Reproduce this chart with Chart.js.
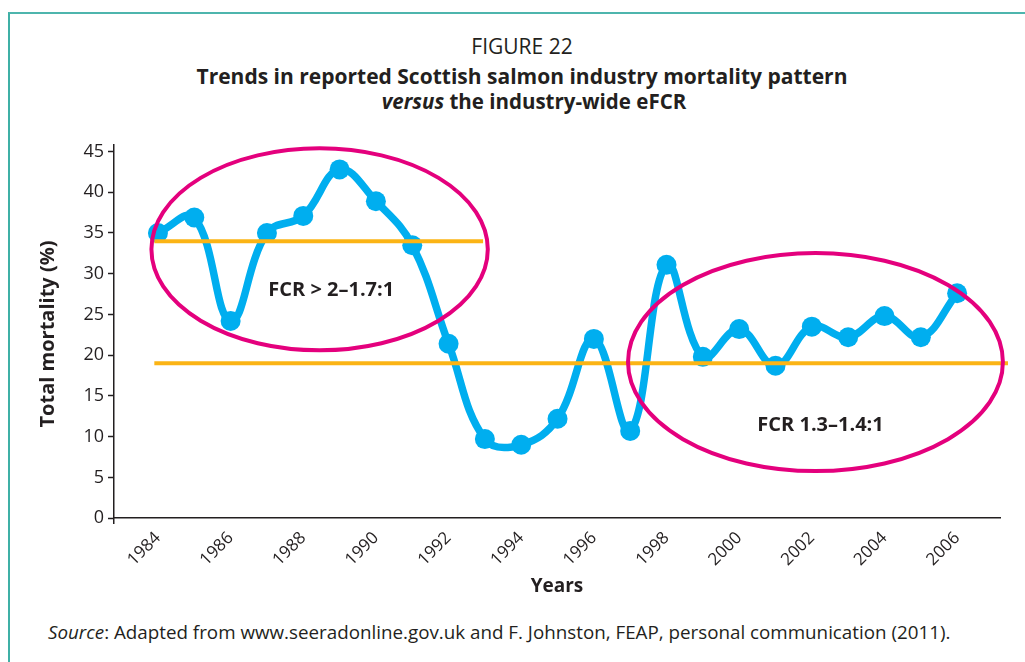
<!DOCTYPE html>
<html>
<head>
<meta charset="utf-8">
<script src="https://cdn.jsdelivr.net/npm/chart.js@4/dist/chart.umd.min.js"></script>
<style>
  body { margin: 0; width: 1025px; height: 662px; overflow: hidden; background: #fff; font-family: "Open Sans", sans-serif; color: #231f20; }
  #frame { position: absolute; left: 8px; top: 12px; width: 1100px; height: 700px; border-top: 2px solid #4db5ad; border-left: 2px solid #3fb0a6; }
  .head { position: absolute; left: 9px; width: 1026px; text-align: center; white-space: nowrap; line-height: 1.3; }
  #fig { top: 33px; font-size: 21px; }
  #t1 { top: 63px; font-size: 21px; font-weight: bold; }
  #t2 { top: 88px; font-size: 20.5px; font-weight: bold; padding-left: 24px; box-sizing: border-box; }
  #src { position: absolute; left: 48px; top: 620px; font-size: 18.8px; line-height: 1.3; white-space: nowrap; }
  canvas { position: absolute; left: 0; top: 0; }
</style>
</head>
<body>
<div id="frame"></div>
<div class="head" id="fig">FIGURE 22</div>
<div class="head" id="t1">Trends in reported Scottish salmon industry mortality pattern</div>
<div class="head" id="t2"><i>versus</i> the industry-wide eFCR</div>
<div id="src"><i>Source</i>: Adapted from www.seeradonline.gov.uk and F. Johnston, FEAP, personal communication (2011).</div>
<canvas id="myChart" width="1025" height="662"></canvas>
<script>
// total mortality (%) per year
var years = [1984, 1985, 1986, 1987, 1988, 1989, 1990, 1991, 1992, 1993, 1994, 1995,
             1996, 1997, 1998, 1999, 2000, 2001, 2002, 2003, 2004, 2005, 2006];
var mortality = [35, 36.9, 24.2, 35, 37.1, 42.8, 38.9, 33.5, 21.4, 9.7, 9.0, 12.2,
                 22.0, 10.7, 31.1, 19.8, 23.2, 18.7, 23.5, 22.2, 24.8, 22.2, 27.6];

var xTickLabels = [1984, 1986, 1988, 1990, 1992, 1994, 1996, 1998, 2000, 2002, 2004, 2006];
var yTickLabels = [0, 5, 10, 15, 20, 25, 30, 35, 40, 45];

// eFCR reference lines (start year, end year, mortality level)
var fcrHighYears = [1983.9, 1992.95];
var fcrHighLevel = 34;
var fcrLowYears = [1983.9, 2007.4];
var fcrLowLevel = 19;

// ellipse groups: centre year, centre value, half width (years), half height (%)
var groups = [
  { label: 'FCR > 2\u20131.7:1', cx: 1988.45, cy: 33.0, rx: 4.63, ry: 12.4, lx: 1988.77, ly: 28.0 },
  { label: 'FCR 1.3\u20131.4:1', cx: 2002.1, cy: 19.15, rx: 5.16, ry: 13.38, lx: 2002.24, ly: 11.4 }
];

var textColor = '#231f20';
var fontName = '"Open Sans", sans-serif';

var groupPlugin = {
  id: 'groups',
  afterDatasetsDraw: function (chart) {
    var ctx = chart.ctx;
    var xs = chart.scales.x, ys = chart.scales.y;
    ctx.save();
    groups.forEach(function (g) {
      var cx = xs.getPixelForValue(g.cx);
      var cy = ys.getPixelForValue(g.cy);
      var rx = xs.getPixelForValue(g.cx + g.rx) - cx;
      var ry = cy - ys.getPixelForValue(g.cy + g.ry);
      ctx.beginPath();
      ctx.ellipse(cx, cy, rx, ry, 0, 0, Math.PI * 2);
      ctx.lineWidth = 4;
      ctx.strokeStyle = '#e4007d';
      ctx.stroke();
      ctx.fillStyle = textColor;
      ctx.font = 'bold 20px ' + fontName;
      ctx.textAlign = 'center';
      ctx.textBaseline = 'middle';
      ctx.fillText(g.label, xs.getPixelForValue(g.lx), ys.getPixelForValue(g.ly));
    });
    ctx.restore();
  }
};

function toPoints(xsArr, ysArr) {
  return xsArr.map(function (x, i) { return { x: x, y: Array.isArray(ysArr) ? ysArr[i] : ysArr }; });
}

var ctx = document.getElementById('myChart').getContext('2d');
var myChart = new Chart(ctx, {
  type: 'line',
  data: {
    datasets: [{
      label: 'Total mortality',
      data: toPoints(years, mortality),
      borderColor: '#00aeef',
      backgroundColor: '#00aeef',
      borderWidth: 7.5,
      tension: 0.4,
      pointRadius: 10,
      pointHoverRadius: 10,
      pointBorderWidth: 0,
      order: 3
    }, {
      label: 'eFCR high',
      data: toPoints(fcrHighYears, fcrHighLevel),
      borderColor: '#fbb415',
      borderWidth: 4,
      pointRadius: 0,
      clip: false,
      order: 2
    }, {
      label: 'eFCR low',
      data: toPoints(fcrLowYears, fcrLowLevel),
      borderColor: '#fbb415',
      borderWidth: 4,
      pointRadius: 0,
      clip: false,
      order: 2
    }]
  },
  options: {
    responsive: false,
    animation: false,
    layout: { padding: { left: 0, top: 145, right: 25, bottom: 139 } },
    plugins: {
      legend: { display: false },
      tooltip: { enabled: false }
    },
    scales: {
      x: {
        type: 'linear',
        min: 1982.79,
        max: 2007.18,
        position: { y: 0 },
        grid: { display: false },
        border: { display: true, color: textColor, width: 1.5 },
        afterBuildTicks: function (scale) {
          scale.ticks = xTickLabels.map(function (v) { return { value: v }; });
        },
        afterFit: function (scale) { scale.height = 80; },
        ticks: {
          color: textColor,
          font: { family: fontName, size: 17 },
          minRotation: 45,
          maxRotation: 45,
          autoSkip: false,
          padding: 2,
          callback: function (v) { return String(v); }
        },
        title: {
          display: true,
          text: 'Years',
          color: textColor,
          font: { family: fontName, size: 19, weight: 'bold' },
          padding: 0
        }
      },
      y: {
        type: 'linear',
        min: -0.6,
        max: 45.8,
        afterBuildTicks: function (scale) {
          scale.ticks = yTickLabels.map(function (v) { return { value: v }; });
        },
        afterFit: function (scale) { scale.width = 114; },
        grid: { drawOnChartArea: false, drawTicks: true, tickLength: 6, tickColor: textColor, tickWidth: 1.5 },
        border: { display: true, color: textColor, width: 1.5 },
        ticks: {
          color: textColor,
          font: { family: fontName, size: 18 },
          padding: 4
        },
        title: {
          display: true,
          text: 'Total mortality (%)',
          color: textColor,
          font: { family: fontName, size: 20, weight: 'bold' },
          padding: { top: 36, bottom: 0 }
        }
      }
    }
  },
  plugins: [groupPlugin]
});
</script>
</body>
</html>
